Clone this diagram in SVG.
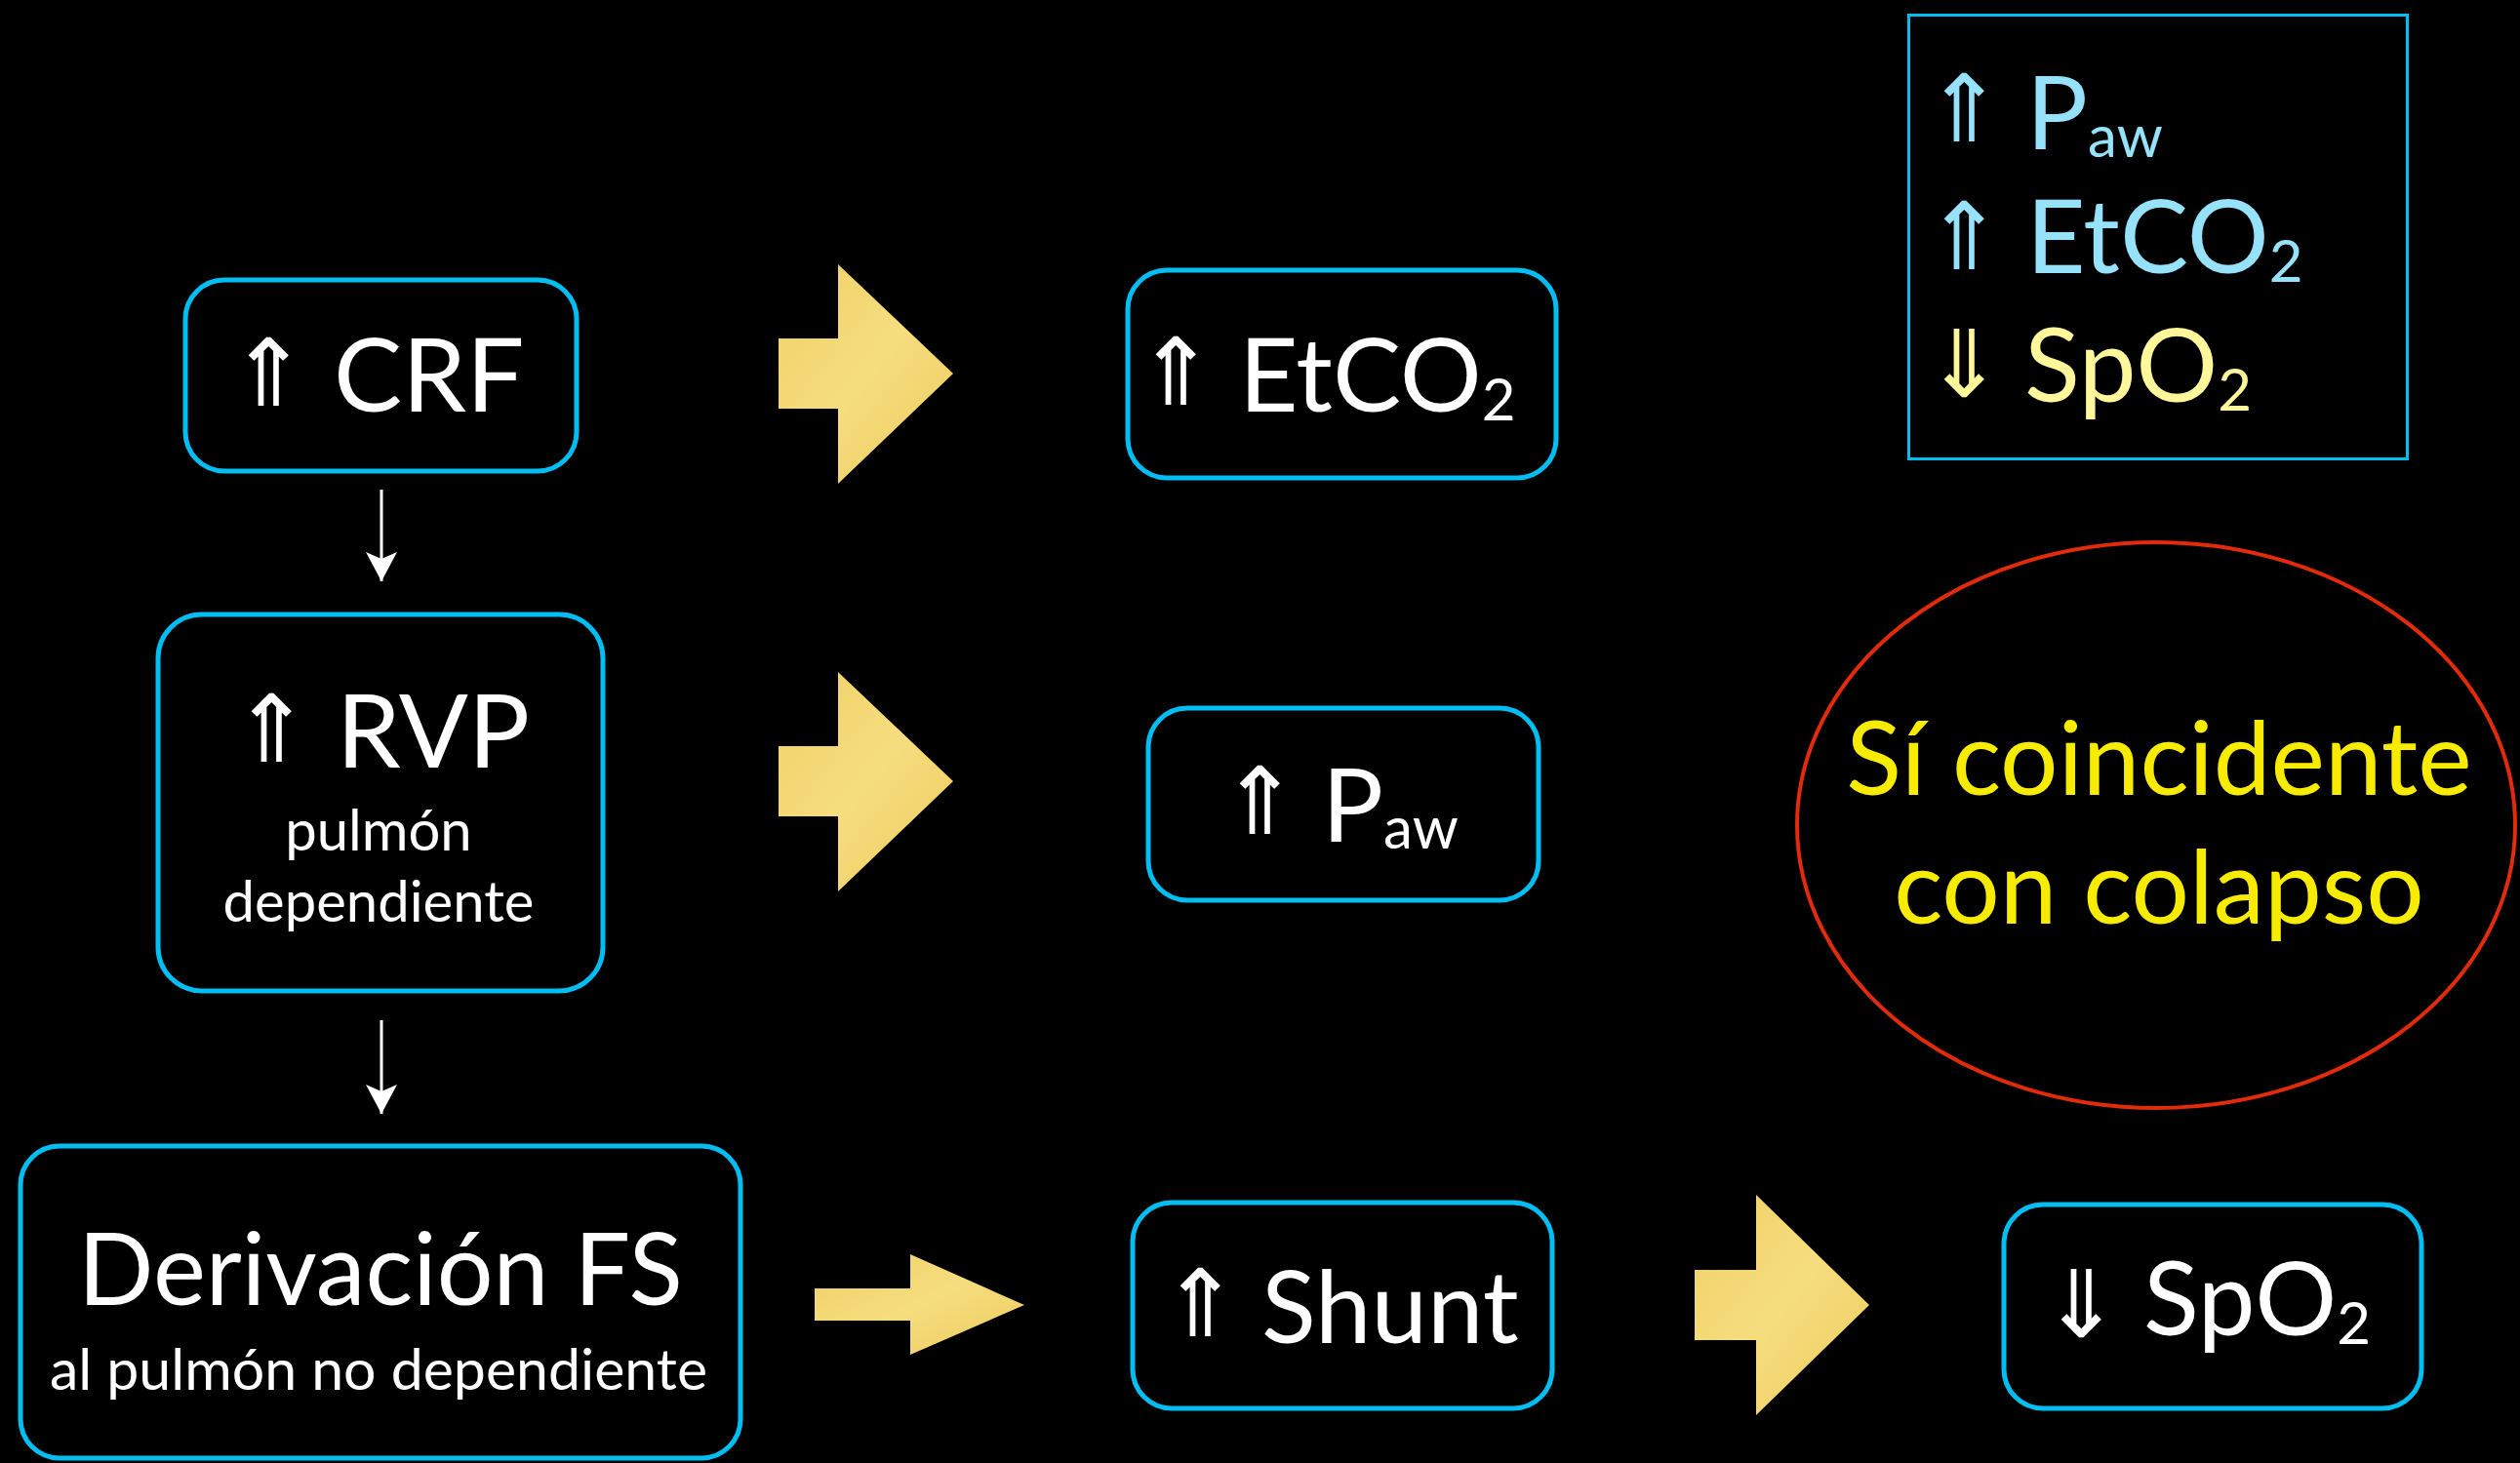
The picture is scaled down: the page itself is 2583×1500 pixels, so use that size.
<svg xmlns="http://www.w3.org/2000/svg" width="2583" height="1500" viewBox="0 0 2583 1500">
<style>
.box{fill:#000;stroke:#00BEF2;stroke-width:5}
.t{font-family:Lato,"Open Sans",sans-serif;fill:#fff}
.big{font-size:105px}
.mid{font-size:58px}
.sub{font-size:60px}
.arr{font-family:"DejaVu Sans",sans-serif;font-size:96px;font-weight:200}
.cy{fill:#96E2FA}
.yl{fill:#FFF799}
.ye{fill:#F7EC00}
.blk{fill:url(#gold)}
.con{stroke:#fff;stroke-width:3;fill:none}
</style>
<defs>
<linearGradient id="gold" x1="0" y1="0" x2="1" y2="1">
<stop offset="0" stop-color="#EFD066"/>
<stop offset="0.5" stop-color="#F6DD7E"/>
<stop offset="1" stop-color="#ECCB5C"/>
</linearGradient>
<marker id="ah" markerUnits="userSpaceOnUse" markerWidth="34" markerHeight="34" viewBox="0 0 34 34" refX="32" refY="17" orient="auto">
<path d="M2,1 L32,17 L2,33 L9,17 z" fill="#fff"/>
</marker>
</defs>
<rect width="2583" height="1500" fill="#000"/>

<g id="connectors">
<line class="con" x1="391" y1="502" x2="391" y2="596" marker-end="url(#ah)"/>
<line class="con" x1="391" y1="1046" x2="391" y2="1142" marker-end="url(#ah)"/>
<polygon class="blk" points="798,347 859,347 859,271 977,383 859,496 859,419 798,419"/>
<polygon class="blk" points="798,765 859,765 859,689 977,801 859,914 859,837 798,837"/>
<polygon class="blk" points="835,1321 933,1321 933,1286 1050,1338 933,1389 933,1354 835,1354"/>
<polygon class="blk" points="1737,1302 1800,1302 1800,1225 1916,1338 1800,1451 1800,1374 1737,1374"/>
</g>

<g id="crf">
<rect class="box" x="190" y="287" width="401" height="196" rx="40"/>
<text class="t arr" x="235" y="416">⇑</text>
<text class="t big" x="342" y="422">CRF</text>
</g>

<g id="etco2">
<rect class="box" x="1156" y="277" width="439" height="213" rx="40"/>
<text class="t arr" x="1165" y="415">⇑</text>
<text class="t big" x="1270" y="422">EtCO<tspan class="sub" dy="9">2</tspan></text>
</g>

<g id="rvp">
<rect class="box" x="162" y="630" width="456" height="386" rx="45"/>
<text class="t arr" x="238" y="781">⇑</text>
<text class="t big" x="345" y="787">RVP</text>
<text class="t mid" x="388" y="872" text-anchor="middle">pulmón</text>
<text class="t mid" x="388" y="945" text-anchor="middle">dependiente</text>
</g>

<g id="paw">
<rect class="box" x="1177" y="726" width="400" height="197" rx="40"/>
<text class="t arr" x="1251" y="855">⇑</text>
<text class="t big" x="1355" y="863">P<tspan style="font-size:60px" dy="7">aw</tspan></text>
</g>

<g id="derivacion">
<rect class="box" x="21" y="1175" width="738" height="320" rx="40"/>
<text class="t" style="font-size:102px" x="390" y="1338" text-anchor="middle">Derivación FS</text>
<text class="t" style="font-size:59px" x="388" y="1425" text-anchor="middle">al pulmón no dependiente</text>
</g>

<g id="shunt">
<rect class="box" x="1161" y="1233" width="430" height="211" rx="40"/>
<text class="t arr" x="1190" y="1370">⇑</text>
<text class="t" style="font-size:103px" x="1293" y="1377">Shunt</text>
</g>

<g id="spo2">
<rect class="box" x="2054" y="1235" width="428" height="209" rx="40"/>
<text class="t arr" x="2093" y="1371">⇓</text>
<text class="t big" x="2197" y="1369">SpO<tspan class="sub" dy="9">2</tspan></text>
</g>

<g id="legend">
<rect x="1956.5" y="15.5" width="511" height="455" fill="none" stroke="#00BEF2" stroke-width="3"/>
<text class="t arr cy" x="1973" y="145">⇑</text>
<text class="t big cy" x="2077" y="153">P<tspan style="font-size:60px" dy="8">aw</tspan></text>
<text class="t arr cy" x="1973" y="276">⇑</text>
<text class="t big cy" x="2077" y="280">EtCO<tspan class="sub" dy="9">2</tspan></text>
<text class="t arr yl" x="1973" y="407">⇓</text>
<text class="t big yl" x="2075" y="412">SpO<tspan class="sub" dy="9">2</tspan></text>
</g>

<g id="colapso">
<ellipse cx="2210" cy="846" rx="368" ry="290" fill="none" stroke="#E12B0A" stroke-width="4"/>
<text class="t big ye" x="2213" y="815" text-anchor="middle">Sí coincidente</text>
<text class="t big ye" x="2213" y="947" text-anchor="middle">con colapso</text>
</g>
</svg>
